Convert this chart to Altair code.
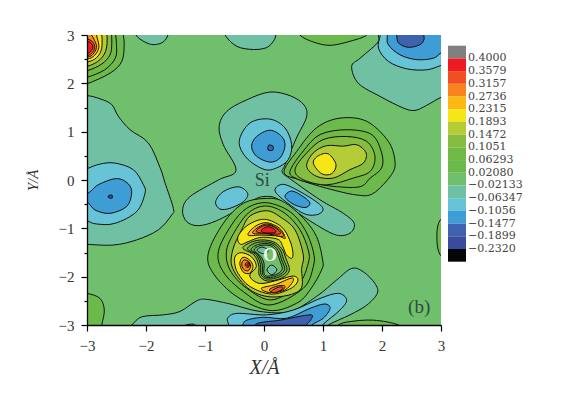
import altair as alt
import pandas as pd

SERIF = "Liberation Serif"

# ---- contour regions (x, y in angstrom) ----
T1 = [(-2.17,3.2),(-2.17,3.0),(-2.02,2.855),(-1.865,2.80),(-1.71,2.855),(-1.63,3.0),(-1.63,3.2)]
T2 = [(-0.66,3.2),(-0.66,3.0),(-0.46,2.765),(-0.18,2.70),(0.045,2.74),(0.158,2.87),(0.2,3.0),(0.2,3.2)]
D1 = [(0.61,3.2),(0.61,3.0),(0.836,2.855),(1.12,2.786),(1.457,2.87),(1.74,3.0),(1.74,3.2)]

E1 = [(1.95,3.3),(1.94,3.0),(1.92,2.835),(1.63,2.52),(1.486,2.35),(1.6,2.0),(1.966,1.73),(2.36,1.49),(2.56,1.44),(2.757,1.545),(3.0,1.71),(3.3,1.85),(3.5,2.5),(3.4,3.4),(2.6,3.5)]
E2 = [(1.98,3.3),(1.97,3.0),(1.94,2.73),(2.107,2.455),(2.42,2.3),(2.757,2.28),(3.0,2.37),(3.3,2.5),(3.5,3.0),(3.4,3.4),(2.6,3.5)]
E3 = [(2.09,3.3),(2.09,3.0),(2.107,2.8),(2.305,2.59),(2.59,2.49),(2.87,2.52),(3.0,2.63),(3.3,2.85),(3.4,3.2),(3.2,3.4),(2.6,3.5)]
E4 = [(2.24,3.2),(2.25,3.0),(2.28,2.835),(2.446,2.745),(2.644,2.8),(2.71,2.9),(2.71,3.0),(2.71,3.2)]

F1 = [(-3.2,1.7),(-3,1.745),(-2.78,1.68),(-2.58,1.56),(-2.47,1.32),(-2.27,1.04),(-1.96,0.766),(-1.76,0.25),(-1.68,-0.05),(-1.537,-0.586),(-1.565,-0.724),(-1.79,-1.03),(-2.16,-1.24),(-2.55,-1.345),(-3,-1.33),(-3.2,-1.3)]
F2 = [(-3.2,0.15),(-3,0.235),(-2.78,0.33),(-2.526,0.35),(-2.215,0.214),(-2.045,-0.097),(-2.017,-0.276),(-2.16,-0.655),(-2.526,-0.897),(-2.836,-0.91),(-3,-0.84),(-3.2,-0.7)]
F3 = [(-3.2,-0.15),(-3,-0.276),(-2.808,-0.097),(-2.5,0.03),(-2.3,-0.08),(-2.243,-0.276),(-2.33,-0.55),(-2.61,-0.69),(-2.865,-0.62),(-3,-0.45),(-3.2,-0.4)]
F4 = [(-2.64,-0.33),(-2.58,-0.31),(-2.57,-0.37),(-2.63,-0.37)]

G1 = [(0.1,1.82),(0.45,1.74),(0.68,1.55),(0.72,1.3),(0.55,0.87),(0.36,0.32),(0.31,0.16),(0.47,0.0),(0.95,-0.41),(1.345,-0.69),(1.53,-0.9),(1.457,-1.1),(1.23,-1.14),(0.89,-0.93),(0.5,-0.62),(0.21,-0.38),(0.04,-0.34),(-0.125,-0.38),(-0.35,-0.55),(-0.8,-0.84),(-1.11,-0.945),(-1.31,-0.86),(-1.38,-0.62),(-1.255,-0.345),(-0.774,0),(-0.475,0.2),(-0.69,0.73),(-0.76,1.11),(-0.63,1.42),(-0.29,1.66)]
G2 = [(0.1,1.26),(0.356,1.076),(0.469,0.73),(0.41,0.42),(0.214,0.25),(0.0,0.22),(-0.294,0.455),(-0.42,0.8),(-0.238,1.18)]
G3 = [(0.1,1.03),(0.3,0.9),(0.356,0.7),(0.27,0.455),(0.1,0.37),(-0.125,0.49),(-0.21,0.7),(-0.125,0.9)]
G4 = [(0.08,0.72),(0.15,0.7),(0.15,0.62),(0.07,0.62)]
G5 = [(-0.82,-0.45),(-0.69,-0.24),(-0.435,-0.14),(-0.277,-0.276),(-0.35,-0.45),(-0.577,-0.586),(-0.746,-0.6)]
G6 = [(0.186,-0.207),(0.327,-0.09),(0.61,-0.24),(0.92,-0.48),(1.0,-0.62),(0.89,-0.72),(0.666,-0.69),(0.33,-0.41)]
G7 = [(0.356,-0.345),(0.469,-0.228),(0.666,-0.345),(0.78,-0.48),(0.695,-0.57),(0.497,-0.5)]

L1 = [(0.34,0.16),(0.553,0.59),(0.89,1.08),(1.288,1.28),(1.74,1.215),(2.107,0.8),(2.22,0.386),(2.16,0.11),(1.853,-0.276),(1.57,-0.31),(1.06,-0.17),(0.61,0.0)]
L2 = [(0.44,0.18),(0.666,0.6),(0.95,0.94),(1.4,1.04),(1.825,0.94),(1.994,0.56),(1.994,0.25),(1.8,0.04),(1.63,-0.138),(1.23,-0.138),(0.78,-0.055),(0.55,0.03)]
L3 = [(0.525,0.214),(0.723,0.56),(1.0,0.835),(1.4,0.9),(1.74,0.8),(1.88,0.49),(1.8,0.18),(1.514,0.04),(1.06,-0.1),(0.666,0.007)]
L4 = [(0.723,0.283),(0.836,0.56),(1.06,0.71),(1.344,0.70),(1.57,0.73),(1.73,0.56),(1.684,0.35),(1.457,0.214),(1.175,0.04),(0.89,0.076)]
L5 = [(0.836,0.35),(0.92,0.5),(1.09,0.54),(1.22,0.32),(1.147,0.13),(0.977,0.13)]

R1 = [(3.3,-0.7),(3,-0.81),(2.93,-1.17),(3,-1.57),(3.3,-1.7)]
B1 = [(-3.3,-2.3),(-3,-2.345),(-2.78,-2.45),(-2.707,-2.69),(-2.75,-3.0),(-2.8,-3.3),(-3.3,-3.3)]
B2 = [(1.1,-3.2),(1.26,-3.0),(1.457,-2.93),(1.853,-2.9),(2.28,-3.0),(2.4,-3.2)]
B3 = [(-2.4,-3.2),(-2.24,-3),(-2.07,-2.83),(-1.706,-2.79),(-1.424,-2.72),(-1.14,-2.5),(-0.97,-2.47),(-0.577,-2.565),(-0.07,-2.72),(0.44,-2.72),(0.89,-2.41),(1.23,-2.07),(1.486,-1.83),(1.684,-1.9),(1.88,-2.14),(1.92,-2.345),(1.74,-2.59),(1.457,-2.79),(1.09,-3.0),(0.9,-3.2)]
B4 = [(-1.37,-3.02),(-1.22,-2.98),(-1.16,-3.02)]
B5 = [(-0.6,-3.2),(-0.6,-3),(-0.616,-2.86),(-0.46,-2.76),(0.045,-2.79),(0.497,-2.69),(0.95,-2.45),(1.26,-2.345),(1.4,-2.48),(1.288,-2.69),(0.988,-3.0),(0.85,-3.2)]
B6 = [(-0.4,-3.2),(-0.36,-3),(-0.29,-2.9),(-0.01,-2.84),(0.384,-2.86),(0.78,-2.655),(1.03,-2.565),(1.12,-2.655),(1.005,-2.86),(0.81,-3),(0.7,-3.2)]
B7 = [(-0.2,-3.2),(-0.153,-3),(-0.01,-2.94),(0.27,-2.9),(0.78,-2.79),(0.79,-2.9),(0.72,-3),(0.7,-3.2)]

H1 = [(-3.3,1.9),(-3,1.99),(-2.61,2.21),(-2.41,2.455),(-2.37,2.83),(-2.41,3.1),(-2.5,3.3),(-3.3,3.3)]
H2 = [(-3.3,2.05),(-3,2.125),(-2.7,2.28),(-2.52,2.52),(-2.5,2.8),(-2.53,3.1),(-2.6,3.3),(-3.3,3.3)]
H3 = [(-3.3,2.2),(-3,2.26),(-2.75,2.4),(-2.61,2.59),(-2.58,2.83),(-2.6,3.1),(-2.7,3.3),(-3.3,3.3)]
H4 = [(-3.3,2.3),(-3,2.35),(-2.78,2.49),(-2.67,2.73),(-2.67,3.1),(-2.75,3.3),(-3.3,3.3)]
H5 = [(-3.3,2.4),(-3,2.44),(-2.84,2.53),(-2.75,2.73),(-2.76,3.1),(-2.85,3.3),(-3.3,3.3)]
H6 = [(-3.3,2.48),(-3,2.5),(-2.87,2.58),(-2.8,2.74),(-2.83,2.95),(-2.9,3.2),(-3.3,3.3)]
H7 = [(-3.3,2.52),(-3,2.54),(-2.9,2.6),(-2.84,2.74),(-2.87,2.88),(-2.97,3.03),(-3.3,3.1)]
H8 = [(-3.3,2.55),(-3,2.57),(-2.91,2.64),(-2.87,2.74),(-2.9,2.85),(-3,2.92),(-3.3,3.0)]
H9 = [(-3.3,2.6),(-3,2.62),(-2.93,2.68),(-2.9,2.75),(-2.93,2.83),(-3,2.87),(-3.3,2.9)]

C1 = [(0.045,-0.38),(-0.35,-0.483),(-0.69,-0.897),(-0.944,-1.517),(-0.86,-1.93),(-0.464,-2.41),(0.1,-2.70),(0.553,-2.55),(0.78,-2.276),(0.977,-1.86),(0.994,-1.655),(0.89,-1.17),(0.666,-0.79),(0.33,-0.45)]
C2 = [(0.045,-0.47),(-0.294,-0.586),(-0.55,-0.93),(-0.774,-1.48),(-0.69,-1.9),(-0.35,-2.31),(0.1,-2.586),(0.666,-2.24),(0.836,-1.79),(0.836,-1.48),(0.695,-1.03),(0.44,-0.655)]
C3 = [(0.045,-0.538),(-0.238,-0.655),(-0.464,-1.0),(-0.633,-1.448),(-0.576,-1.86),(-0.294,-2.24),(0.13,-2.48),(0.58,-2.17),(0.75,-1.72),(0.75,-1.45),(0.61,-1.03),(0.356,-0.69)]
C4 = [(0.045,-0.635),(-0.238,-0.745),(-0.379,-1.03),(-0.53,-1.448),(-0.53,-1.83),(-0.238,-2.27),(0.158,-2.42),(0.61,-2.276),(0.638,-1.83),(0.666,-1.55),(0.525,-1.03),(0.27,-0.76)]
Y1 = [(-0.44,-1.17),(-0.27,-0.93),(0.01,-0.814),(0.294,-0.966),(0.435,-1.24),(0.49,-1.5),(0.47,-1.62),(0.38,-1.55),(0.32,-1.38),(0.24,-1.23),(-0.045,-1.186),(-0.27,-1.276),(-0.4,-1.33)]
A1 = [(-0.27,-1.14),(-0.158,-0.966),(0.04,-0.883),(0.266,-1.0),(0.36,-1.207),(0.24,-1.16),(-0.045,-1.14)]
O1 = [(-0.186,-1.104),(-0.1,-0.98),(0.068,-0.91),(0.266,-1.035),(0.32,-1.17),(0.068,-1.117)]
S1 = [(-0.13,-1.07),(-0.045,-0.966),(0.096,-0.938),(0.24,-1.035),(0.266,-1.117),(0.04,-1.104)]
Z1 = [(-0.045,-1.035),(0.068,-0.966),(0.19,-1.035),(0.18,-1.09),(0,-1.09)]
Y2 = [(-0.497,-1.725),(-0.44,-1.93),(-0.243,-2.2),(0.124,-2.36),(0.46,-2.24),(0.576,-2.07),(0.49,-1.987),(0.24,-2.07),(-0.017,-2.14),(-0.158,-2.1),(-0.243,-1.966),(-0.13,-1.79),(-0.215,-1.587),(-0.384,-1.504),(-0.486,-1.573)]
A2 = [(-0.41,-1.725),(-0.356,-1.6),(-0.243,-1.656),(-0.186,-1.79),(-0.243,-1.93),(-0.356,-1.9)]
O2 = [(-0.378,-1.74),(-0.34,-1.656),(-0.26,-1.683),(-0.226,-1.78),(-0.27,-1.876),(-0.345,-1.85)]
S2 = [(-0.32,-1.75),(-0.27,-1.69),(-0.24,-1.76),(-0.28,-1.81)]
Z2 = [(-0.29,-1.75),(-0.26,-1.72),(-0.25,-1.76),(-0.28,-1.78)]
A3 = [(-0.045,-2.24),(0.2,-2.16),(0.46,-2.03),(0.49,-2.1),(0.35,-2.28),(0.096,-2.33)]
O3 = [(0.096,-2.26),(0.24,-2.19),(0.35,-2.19),(0.32,-2.27),(0.15,-2.33)]
S3 = [(0.124,-2.3),(0.24,-2.22),(0.32,-2.22),(0.29,-2.277),(0.18,-2.33)]
D2 = [(-0.36,-1.4),(-0.12,-1.25),(0.14,-1.27),(0.3,-1.42),(0.37,-1.62),(0.43,-1.87),(0.3,-2.03),(0.05,-2.09),(-0.08,-1.97),(-0.09,-1.76),(-0.17,-1.55)]
D3 = [(-0.28,-1.42),(-0.11,-1.29),(0.13,-1.3),(0.27,-1.44),(0.33,-1.64),(0.39,-1.86),(0.27,-2.0),(0.06,-2.05),(-0.05,-1.96),(-0.06,-1.75),(-0.13,-1.55)]
D4 = [(-0.22,-1.44),(-0.09,-1.33),(0.12,-1.33),(0.24,-1.46),(0.3,-1.66),(0.35,-1.85),(0.25,-1.97),(0.07,-2.02),(-0.02,-1.95),(-0.03,-1.74),(-0.1,-1.55)]
D5 = [(-0.17,-1.45),(-0.07,-1.36),(0.11,-1.36),(0.21,-1.48),(0.27,-1.67),(0.31,-1.84),(0.23,-1.94),(0.07,-1.99),(0,-1.93),(0,-1.72),(-0.07,-1.56)]
D6 = [(-0.12,-1.45),(-0.04,-1.39),(0.05,-1.43),(0.06,-1.5),(-0.03,-1.52)]
D7 = [(0.05,-1.86),(0.13,-1.76),(0.22,-1.86),(0.13,-1.96)]

# drawing order, outermost first: (band, outline)
REGIONS = [
    ("n1",T1),("n1",T2),("p1",D1),("n1",E1),("n2",E2),("n3",E3),("n4",E4),
    ("n1",F1),("n2",F2),("n3",F3),("n5",F4),
    ("n1",G1),("n2",G2),("n3",G3),("n4",G4),("n2",G5),("n2",G6),("n3",G7),
    ("p1",L1),("p2",L2),("p3",L3),("p4",L4),("p5",L5),
    ("p1",R1),("p1",B1),("p1",B2),("n1",B3),("z",B4),("n2",B5),("n3",B6),("n4",B7),
    ("p1",H1),("p2",H2),("p3",H3),("p4",H4),("p5",H5),("p6",H6),("p7",H7),("p8",H8),("p9",H9),
    ("p1",C1),("p2",C2),("p3",C3),("p4",C4),
    ("p5",Y1),("p6",A1),("p7",O1),("p8",S1),("p9",Z1),
    ("p5",Y2),("p6",A2),("p7",O2),("p8",S2),("p9",Z2),("p6",A3),("p7",O3),("p8",S3),
    ("p3",D2),("p2",D3),("p1",D4),("z",D5),("n1",D6),("n1",D7),
]

# ---- colour bar ----
BANDS = ["top","p9","p8","p7","p6","p5","p4","p3","p2","p1","z","n1","n2","n3","n4","n5","bot"]
COLORS = ["#808080","#ec1c24","#f04f23","#f7841f","#fdb813","#f5e616","#b4cc36","#84bd3f","#6fb944",
          "#6bba4b","#70bf6d","#70c1a3","#67c3d6","#3f9dd6","#3e62ae","#3a4a9d","#060606"]
LEVELS = ["0.4000","0.3579","0.3157","0.2736","0.2315","0.1893","0.1472","0.1051","0.06293","0.02080",
          "−0.02133","−0.06347","−0.1056","−0.1477","−0.1899","−0.2320"]

rows = []
for k, (band, pts) in enumerate(REGIONS):
    for i, (px, py) in enumerate(pts):
        rows.append({"poly": k, "band": band, "i": i, "x": px, "y": py})
df = pd.DataFrame(rows)

xs = alt.Scale(domain=[-3, 3], nice=False, zero=False)
ys = alt.Scale(domain=[-3, 3], nice=False, zero=False)
tick_values = [-3 + 0.5 * i for i in range(13)]

def make_axis(title, pad, title_size):
    return alt.Axis(
        title=title, values=tick_values, format=".0f",
        labelExpr="datum.value % 1 == 0 ? datum.label : ''",
        tickSize={"condition": {"test": "datum.value % 1 == 0", "value": 6}, "value": 3},
        tickColor="black", domainColor="black", domainWidth=1.3, tickWidth=1.2,
        grid=False, labelFont=SERIF, labelFontSize=15, labelColor="#333333", labelPadding=7,
        labelOverlap=False, labelFlush=False,
        titleFont=SERIF, titleFontSize=title_size, titleFontStyle="italic", titleFontWeight="normal",
        titleColor="#333333", titlePadding=pad, zindex=1,
    )

contours = alt.Chart(df).mark_line(
    interpolate="cardinal-closed", stroke="#111111", strokeWidth=1, clip=True, filled=True
).encode(
    x=alt.X("x:Q", scale=xs, axis=make_axis("X/Å", 4, 20)),
    y=alt.Y("y:Q", scale=ys, axis=make_axis("Y/Å", 18, 15)),
    fill=alt.Fill("band:N", scale=alt.Scale(domain=BANDS, range=COLORS), legend=None),
    detail="poly:N",
    order=alt.Order("i:Q"),
)

bar_df = pd.DataFrame({"a": list(range(17)), "b": list(range(1, 18)), "c": COLORS})
bar_scale = alt.Scale(domain=[0, 17], range=[10.7, 226.7], nice=False, zero=False)
bar = alt.Chart(bar_df).mark_rect().encode(
    x=alt.value(361), x2=alt.value(379),
    y=alt.Y("a:Q", scale=bar_scale, axis=None), y2="b:Q",
    color=alt.Color("c:N", scale=None),
)
lab_df = pd.DataFrame({"pos": list(range(1, 17)), "t": LEVELS})
bar_labels = alt.Chart(lab_df).mark_text(
    align="left", baseline="middle", font="DejaVu Serif", fontSize=11, color="#444444"
).encode(x=alt.value(381), y=alt.Y("pos:Q", scale=bar_scale, axis=None), text="t:N")

notes = pd.DataFrame({"x": [-0.03, 2.63], "y": [-0.02, -2.63], "t": ["Si", "(b)"], "s": [18, 19]})
note_layer = alt.Chart(notes).mark_text(font=SERIF, color="#2f4a3c", baseline="middle").encode(
    x=alt.X("x:Q", scale=xs), y=alt.Y("y:Q", scale=ys, axis=None), text="t:N",
    size=alt.Size("s:Q", scale=None, legend=None),
)
atom = alt.Chart(pd.DataFrame({"x": [0.1], "y": [-1.58], "t": ["O"]})).mark_text(
    font=SERIF, fontSize=18, fontWeight="bold", color="#f2f7ee", baseline="middle"
).encode(x=alt.X("x:Q", scale=xs), y=alt.Y("y:Q", scale=ys, axis=None), text="t:N")

chart = alt.layer(contours, note_layer, atom, bar, bar_labels).resolve_scale(y="independent").properties(
    width=354, height=290,
    autosize=alt.AutoSizeParams(type="none"),
    padding={"left": 79, "top": 27, "right": 118, "bottom": 62},
    background="white",
).configure_view(fill="#70bf6d", stroke=None)

chart.save("out.html", embed_options={"renderer": "svg", "actions": False})
